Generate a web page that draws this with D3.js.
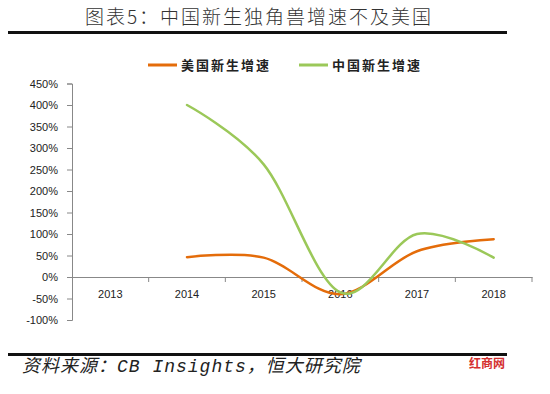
<!DOCTYPE html>
<html>
<head>
<meta charset="utf-8">
<script src="https://cdn.jsdelivr.net/npm/d3@7"></script>
<style>
  body { margin: 0; background: #fff; }
  svg { display: block; }
</style>
</head>
<body>
<div id="chart"></div>
<script>
// data
var years = ["2013", "2014", "2015", "2016", "2017", "2018"];
var usGrowth = [null, 46, 45, -40, 60, 88];
var cnGrowth = [null, 400, 262, -36, 100, 45];
var yTicks = [-100, -50, 0, 50, 100, 150, 200, 250, 300, 350, 400, 450];
var seriesNames = ["美国新生增速", "中国新生增速"];
var seriesColors = ["#E46C0A", "#9BC859"];

var W = 550, H = 394;

var svg = d3.select("#chart").append("svg")
  .attr("width", W)
  .attr("height", H);

// title
svg.append("text")
  .attr("x", 259)
  .attr("y", 24)
  .attr("text-anchor", "middle")
  .style("font-family", "'Noto Sans CJK SC'")
  .style("font-weight", 300)
  .style("font-size", "19px")
  .style("letter-spacing", "2px")
  .style("fill", "#333")
  .text("图表5：中国新生独角兽增速不及美国");

svg.append("rect")
  .attr("x", 8).attr("y", 31)
  .attr("width", 499).attr("height", 3)
  .attr("fill", "#111");

// scales
var x = d3.scaleBand()
  .domain(years)
  .range([72, 532]);

var y = d3.scaleLinear()
  .domain([-100, 450])
  .range([320, 83.5]);

// y axis
var yAxis = svg.append("g")
  .attr("transform", "translate(72,0)")
  .call(d3.axisLeft(y)
    .tickValues(yTicks)
    .tickSize(5)
    .tickPadding(9)
    .tickFormat(function(d) { return d + "%"; }));
yAxis.selectAll("path, line").attr("stroke", "#888");
yAxis.selectAll("text")
  .style("font-family", "'Liberation Sans', Arial")
  .style("font-size", "11px")
  .style("fill", "#222");

// x axis on the zero line
var xAxis = svg.append("g")
  .attr("transform", "translate(0," + y(0) + ")")
  .call(d3.axisBottom(x).tickSize(0).tickPadding(13));
xAxis.select("path").attr("stroke", "#888");
xAxis.selectAll("text")
  .style("font-family", "'Liberation Sans', Arial")
  .style("font-size", "11px")
  .style("fill", "#222");

// category boundary ticks
xAxis.selectAll("line.bound")
  .data(years)
  .enter()
  .append("line")
  .attr("class", "bound")
  .attr("x1", function(d) { return x(d) + x.bandwidth(); })
  .attr("x2", function(d) { return x(d) + x.bandwidth(); })
  .attr("y1", 0)
  .attr("y2", 5)
  .attr("stroke", "#888");

// lines
var line = d3.line()
  .defined(function(d) { return d.v != null; })
  .x(function(d) { return x(d.year) + x.bandwidth() / 2; })
  .y(function(d) { return y(d.v); })
  .curve(d3.curveCardinal.tension(0));

[usGrowth, cnGrowth].forEach(function(vals, i) {
  var pts = years.map(function(yr, j) { return {year: yr, v: vals[j]}; })
    .filter(function(d) { return d.v != null; });
  svg.append("path")
    .datum(pts)
    .attr("fill", "none")
    .attr("stroke", seriesColors[i])
    .attr("stroke-width", 2.5)
    .attr("stroke-linecap", "round")
    .attr("d", line);
});

// legend
var legendX = [148, 299];
seriesNames.forEach(function(name, i) {
  svg.append("line")
    .attr("x1", legendX[i]).attr("x2", legendX[i] + 29)
    .attr("y1", 65).attr("y2", 65)
    .attr("stroke", seriesColors[i])
    .attr("stroke-width", 3);
  svg.append("text")
    .attr("x", legendX[i] + 33)
    .attr("y", 70)
    .style("font-family", "'Noto Sans CJK SC'")
    .style("font-weight", "bold")
    .style("font-size", "13px")
    .style("letter-spacing", "2px")
    .style("fill", "#222")
    .text(name);
});

// footer
svg.append("rect")
  .attr("x", 8).attr("y", 353)
  .attr("width", 499).attr("height", 3)
  .attr("fill", "#111");

svg.append("text")
  .attr("x", 22)
  .attr("y", 372)
  .style("font-family", "'Liberation Mono', 'Noto Sans CJK SC'")
  .style("font-style", "italic")
  .style("font-size", "18px")
  .style("letter-spacing", "1px")
  .style("fill", "#222")
  .text("资料来源：CB Insights，恒大研究院");

svg.append("text")
  .attr("x", 505)
  .attr("y", 368)
  .attr("text-anchor", "end")
  .style("font-family", "'Noto Sans CJK SC'")
  .style("font-weight", "bold")
  .style("font-size", "12px")
  .style("fill", "#d43030")
  .text("红商网");
</script>
</body>
</html>
